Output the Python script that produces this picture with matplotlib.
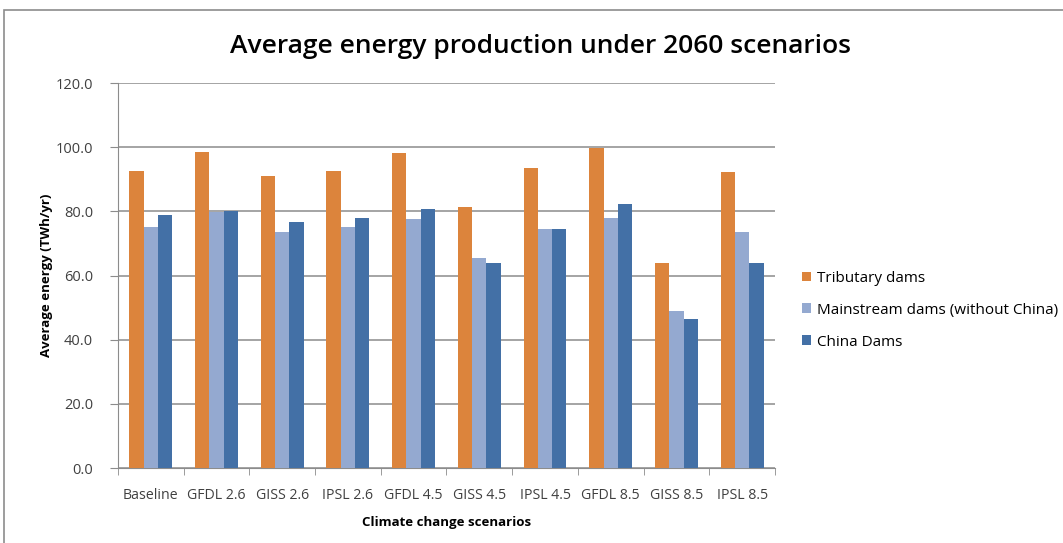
import matplotlib
matplotlib.use("Agg")
import matplotlib.pyplot as plt
import numpy as np
from matplotlib.patches import Rectangle

scenarios = ["Baseline", "GFDL 2.6", "GISS 2.6", "IPSL 2.6", "GFDL 4.5",
             "GISS 4.5", "IPSL 4.5", "GFDL 8.5", "GISS 8.5", "IPSL 8.5"]
tributary = [92.6, 98.4, 91.0, 92.6, 98.1, 81.4, 93.5, 99.8, 64.0, 92.3]
mainstream = [75.0, 79.7, 73.6, 75.0, 77.5, 65.4, 74.6, 77.8, 49.1, 73.5]
china = [78.9, 80.0, 76.6, 77.8, 80.7, 63.8, 74.6, 82.2, 46.6, 64.0]
series_names = ["Tributary dams", "Mainstream dams (without China)", "China Dams"]
colors = ["#DC843C", "#94A9D0", "#4370A6"]

plt.rcParams['font.family'] = ['Open Sans', 'DejaVu Sans']

fig = plt.figure(figsize=(10.63, 5.43), dpi=100)
ax = fig.add_axes([0.111, 0.138, 0.618, 0.709])

# chart border
fig.patches.append(Rectangle((4 / 1063, -0.1), 1.2, 1 - 10 / 543 + 0.1,
                             transform=fig.transFigure, fill=False,
                             edgecolor='#8c8c8c', linewidth=1.2))

x = np.arange(len(scenarios))
w = 0.218
for i, (vals, name) in enumerate(zip([tributary, mainstream, china], series_names)):
    ax.bar(x + (i - 1) * w, vals, width=w, color=colors[i], label=name, zorder=3)

ax.set_xlim(-0.5, len(scenarios) - 0.5)
ax.set_ylim(0, 120)
ax.set_yticks(np.arange(0, 121, 20))
ax.set_yticklabels([f"{v:.1f}" for v in np.arange(0, 121, 20)], fontsize=10.5, color='#404040')
ax.set_xticks(x)
ax.set_xticklabels(scenarios, fontsize=10.2, color='#404040')
ax.tick_params(axis='x', length=0, pad=14)
ax.set_xticks(np.arange(-0.5, len(scenarios), 1), minor=True)
ax.tick_params(axis='x', which='minor', length=5, color='#8c8c8c', direction='out')
ax.tick_params(axis='y', length=6, color='#8c8c8c', direction='out', pad=12)
ax.grid(axis='y', color='#8c8c8c', linewidth=1.1, zorder=0)

for s in ['top', 'right']:
    ax.spines[s].set_visible(False)
for s in ['left', 'bottom']:
    ax.spines[s].set_color('#8c8c8c')

ax.set_ylabel("Average energy (TWh/yr)", fontsize=9.5, fontweight='bold', labelpad=2)
ax.set_xlabel("Climate change scenarios", fontsize=9.5, fontweight='bold', labelpad=10)
fig.text(0.508, 0.915, "Average energy production under 2060 scenarios",
         ha='center', va='center', fontsize=19, fontweight='semibold')

ax.legend(loc='center left', bbox_to_anchor=(1.02, 0.41), frameon=False,
          fontsize=11, handlelength=0.6, handleheight=0.6, handletextpad=0.4,
          labelspacing=1.1)

plt.savefig('out.png', dpi=100)
